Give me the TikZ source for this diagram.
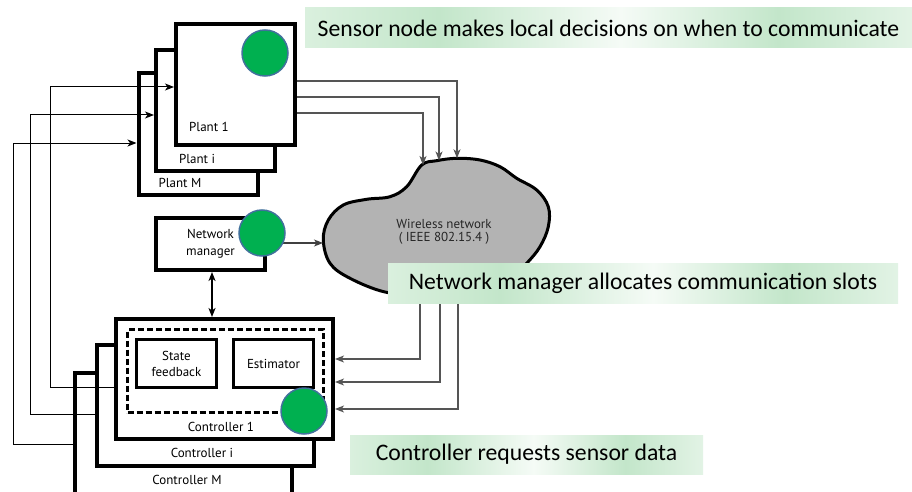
\documentclass[tikz,border=0pt]{standalone}
\usepackage{fontspec}
\setmainfont{PT Sans}
\newfontfamily\calloutfont{Carlito}
\usetikzlibrary{arrows.meta,calc}

\definecolor{sensorgreen}{HTML}{00B050}
\definecolor{ringblue}{HTML}{41719C}
\definecolor{cloudgray}{HTML}{B3B3B3}
\definecolor{linegray}{HTML}{555555}
\definecolor{shA}{HTML}{DAF0DE}
\definecolor{shB}{HTML}{C3E6CA}
\definecolor{shC}{HTML}{F5FBF6}
\definecolor{shD}{HTML}{E2F3E5}

% soft green band used behind the three callouts
\pgfdeclarehorizontalshading{calloutshade}{100bp}{%
  color(0bp)=(shA); color(25bp)=(shA); color(36bp)=(shB);
  color(51bp)=(shC); color(64bp)=(shB); color(75bp)=(shD); color(100bp)=(shD)}

\newcommand{\lblfont}{\fontsize{13}{16}\selectfont}
\newcommand{\calfont}{\calloutfont\fontsize{23.7}{26}\selectfont}

\begin{document}
\begin{tikzpicture}[x=1pt,y=-1pt,
  box/.style={draw=black, line width=4pt, fill=white, inner sep=0pt},
  plantbox/.style={box, minimum width=119pt, minimum height=121pt},
  ctrlbox/.style={box, minimum width=217pt, minimum height=120pt},
  innerbox/.style={draw=black, line width=3pt, fill=white, minimum width=80pt,
    minimum height=48pt, inner sep=0pt, align=center, font=\lblfont},
  lbl/.style={font=\lblfont, text=black, inner sep=0pt, align=center},
  sensor/.style={circle, draw=ringblue, line width=1.5pt, fill=sensorgreen,
    minimum size=46pt, inner sep=0pt},
  tip/.style={-{Stealth[length=9pt,width=7pt,inset=2.5pt]}},
  fb/.style={tip, draw=black, line width=1pt},
  net/.style={tip, draw=linegray, line width=1.1pt},
  callout/.style={shade, shading=calloutshade, inner sep=0pt, font=\calfont,
    text=black}
]
\useasboundingbox (0,0) rectangle (912,492);

% ---------------- plants (stacked) ----------------
\node[plantbox] (pM) at (198,134) {};
\node[plantbox] (pI) at (215.5,110.5) {};
\node[plantbox] (p1) at (235.5,84.5) {};
\node[lbl] (pMlbl) at (180,183) {Plant M};
\node[lbl] (pIlbl) at (197,159) {Plant i};
\node[lbl] (p1lbl) at (209,127) {Plant 1};

% ---------------- controllers (stacked) ----------------
\begin{scope}
\clip (0,0) rectangle (912,492);
\node[box, minimum width=217pt, minimum height=140pt] (cM) at (183.5,443) {};
\end{scope}
\node[ctrlbox, minimum height=121pt] (cI) at (205.5,405.5) {};
\node[ctrlbox] (c1) at (224.5,379) {};
\node[draw=black, line width=2.5pt, dash pattern=on 6pt off 3pt,
  minimum width=196pt, minimum height=83pt, inner sep=0pt] (loop) at (225.5,371) {};
\node[innerbox] (sf) at (176.5,363.5) {State\\feedback};
\node[innerbox] (est) at (273.5,363.5) {Estimator};
\node[lbl] (cMlbl) at (187,480) {Controller M};
\node[lbl] (cIlbl) at (202,453) {Controller i};
\node[lbl] (c1lbl) at (221,427) {Controller 1};

% ---------------- network manager ----------------
\node[box, minimum width=109pt, minimum height=52pt, align=center,
  font=\fontsize{13}{17}\selectfont] (nm) at (210.5,244) {Network\\manager};

% ---------------- wireless network cloud ----------------
\draw[line width=3pt, fill=cloudgray] plot[smooth cycle, tension=0.6] coordinates {
  (421.7,165) (436.7,160.7) (456.7,158.3) (480,160) (500,166.7) (516.7,178.3)
  (536.7,190) (548.3,206.7) (548.3,226.7) (540,246.7) (526.7,263.3)
  (508,281) (465,292) (420,294) (385,292) (350,278.3) (330,263.3)
  (323.3,240) (328.3,220) (343.3,205) (366.7,199.3) (390,196.7) (406.7,186.7)};
\node[lbl, text=black!85, font=\fontsize{13}{13.5}\selectfont] (cloud) at (444,232)
  {Wireless network\\( IEEE 802.15.4 )};
\coordinate (cW)  at (323,243);
\coordinate (cT1) at (423,165);
\coordinate (cT2) at (439,160.5);
\coordinate (cT3) at (457,158.3);
\coordinate (cB1) at (420,290);
\coordinate (cB2) at (440,290);
\coordinate (cB3) at (458,288);

% ---------------- connectors ----------------
% controller outputs back to the plant inputs
\draw[fb] (c1.west |- 0,387) -| (50,87) -- (p1.west |- 0,87);
\draw[fb] (cI.west |- 0,414) -| (30,115) -- (pI.west |- 0,115);
\draw[fb] (cM.west |- 0,444) -| (13,143) -- (pM.west |- 0,143);

% plant measurements into the network
\draw[net] (p1.east |- 0,81)  -| (cT3);
\draw[net] (p1.east |- 0,97)  -| (cT2);
\draw[net] (p1.east |- 0,113) -| (cT1);

% network into the controller
\draw[net] (cB1) |- (c1.east |- 0,359);
\draw[net] (cB2) |- (c1.east |- 0,382);
\draw[net] (cB3) |- (c1.east |- 0,409);

% manager to network, manager to controller
\draw[net, draw=black!75] (nm.east |- 0,243) -- (cW);
\draw[{Stealth[length=9pt,width=7pt,inset=2.5pt]}-{Stealth[length=9pt,width=7pt,inset=2.5pt]},
  line width=1.4pt] (nm.south -| 212,0) -- (c1.north -| 212,0);

% ---------------- sensor/agent markers ----------------
\node[sensor] (s1) at (265,53) {};
\node[sensor] (s2) at (262,233) {};
\node[sensor] (s3) at (304,411) {};

% ---------------- callouts ----------------
\node[callout, minimum width=607pt, minimum height=40pt] (note1) at (608.5,28)
  {Sensor node makes local decisions on when to communicate};
\node[callout, minimum width=510pt, minimum height=40pt] (note2) at (643,283)
  {Network manager allocates communication slots};
\node[callout, minimum width=353pt, minimum height=39pt] (note3) at (526.5,454.5)
  {Controller requests sensor data};
\end{tikzpicture}
\end{document}
